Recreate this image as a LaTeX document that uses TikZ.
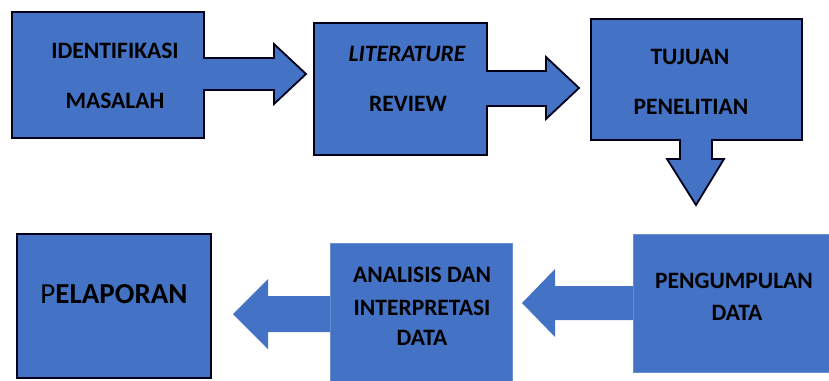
\documentclass[tikz,border=0pt]{standalone}
\usepackage{fontspec}
\setmainfont{Carlito}
\usetikzlibrary{calc}
\begin{document}
\begin{tikzpicture}[x=1pt,y=-1pt,
  box/.style={draw=black!90!blue,line width=1.8pt,fill=stepblue,inner sep=0pt,anchor=north west},
  plainbox/.style={fill=stepblue,draw=stepblue!80!white,line width=0.5pt,inner sep=0pt,anchor=north west},
  outlinearrow/.style={fill=stepblue,draw=black!90!blue,line width=1.8pt,line join=miter},
  plainarrow/.style={fill=stepblue,draw=none},
  lbl/.style={font=\fontsize{23.5}{28}\selectfont\bfseries,anchor=base,inner sep=0pt},
  biglbl/.style={font=\fontsize{29}{34}\selectfont,anchor=base,inner sep=0pt}]
\definecolor{stepblue}{HTML}{4472C4}
\useasboundingbox (0,0) rectangle (829,380);

% top row: boxes
\node[box,minimum width=192pt,minimum height=126pt] (b1) at (11,11) {};
\node[box,minimum width=173pt,minimum height=132pt] (b2) at (313,22) {};
\node[box,minimum width=211pt,minimum height=121pt] (b3) at (590,18) {};

% bottom row: boxes
\node[box,minimum width=194pt,minimum height=144pt] (b4) at (16,233) {};
\node[plainbox,minimum width=182pt,minimum height=140pt] (b5) at (330,243) {};
\node[plainbox,minimum width=197pt,minimum height=138pt] (b6) at (633,234) {};

% block arrows of the top row (outlined, joined to their boxes)
\path[outlinearrow] (b1.east |- 0,58) -- (274,58) -- (274,44) -- (306,74) -- (274,104) -- (274,90) -- (b1.east |- 0,90);
\fill[stepblue] ($(b1.east |- 0,58)+(-1.5,1)$) rectangle ($(b1.east |- 0,90)+(1.5,-1)$);

\path[outlinearrow] (b2.east |- 0,71) -- (546,71) -- (546,57) -- (579,88) -- (546,119) -- (546,106) -- (b2.east |- 0,106);
\fill[stepblue] ($(b2.east |- 0,71)+(-1.5,1)$) rectangle ($(b2.east |- 0,106)+(1.5,-1)$);

\path[outlinearrow] (680,0 |- b3.south) -- (680,159) -- (667,159) -- (696,205) -- (724,159) -- (712,159) -- (712,0 |- b3.south);
\fill[stepblue] ($(680,0 |- b3.south)+(1,-1.5)$) rectangle ($(712,0 |- b3.south)+(-1,1.5)$);

% block arrows of the bottom row
\path[plainarrow] (b6.west |- 0,286) -- (555,286) -- (555,269) -- (522,303) -- (555,337) -- (555,320) -- (b6.west |- 0,320) -- cycle;
\path[plainarrow] (b5.west |- 0,296) -- (268,296) -- (268,279) -- (233,314) -- (268,349) -- (268,332) -- (b5.west |- 0,332) -- cycle;

% labels
\node[lbl] (t1a) at (115,58) {IDENTIFIKASI};
\node[lbl] (t1b) at (115,108) {MASALAH};
\node[lbl] (t2a) at (407,61) {\itshape LITERATURE};
\node[lbl] (t2b) at (408,111) {REVIEW};
\node[lbl] (t3a) at (690,64) {TUJUAN};
\node[lbl] (t3b) at (691,114) {PENELITIAN};
\node[biglbl] (t4) at (114,303) {P\textbf{ELAPORAN}};
\node[lbl] (t5a) at (422,282) {ANALISIS DAN};
\node[lbl] (t5b) at (422,315) {INTERPRETASI};
\node[lbl] (t5c) at (422,345) {DATA};
\node[lbl] (t6a) at (734,288) {PENGUMPULAN};
\node[lbl] (t6b) at (737,320) {DATA};
\end{tikzpicture}
\end{document}
